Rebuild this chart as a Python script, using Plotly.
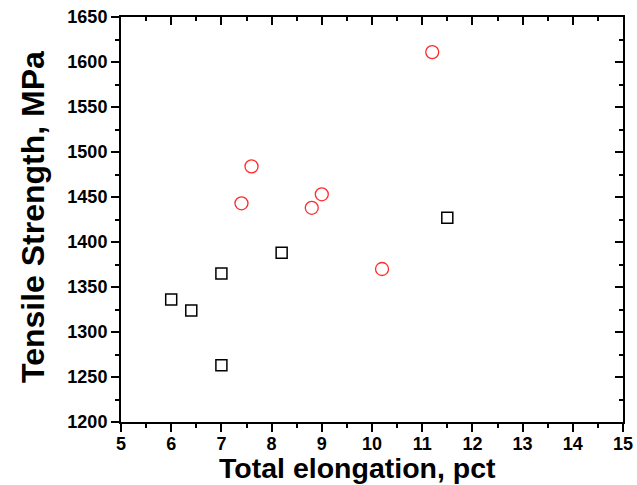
import plotly.graph_objects as go

# Data
square_elong = [6.0, 6.4, 7.0, 7.0, 8.2, 11.5]
square_strength = [1336, 1324, 1365, 1263, 1388, 1427]

circle_elong = [7.4, 7.6, 8.8, 9.0, 10.2, 11.2]
circle_strength = [1443, 1484, 1438, 1453, 1370, 1611]

x_title = "Total elongation, pct"
y_title = "Tensile Strength, MPa"

FONT = "Liberation Sans, Arial, sans-serif"

W, H = 637, 485
ML, MR, MT, MB = 121, 14, 17, 63

fig = go.Figure()
fig.add_trace(go.Scatter(
    x=square_elong, y=square_strength, mode="markers",
    marker=dict(symbol="square-open", size=11, color="black", line=dict(width=1.5)),
    showlegend=False, hoverinfo="skip"))
fig.add_trace(go.Scatter(
    x=circle_elong, y=circle_strength, mode="markers",
    marker=dict(symbol="circle-open", size=13, color="#ff2a2a", line=dict(width=1.3)),
    showlegend=False, hoverinfo="skip"))
# empty trace to make mirrored (top/right) axes render
fig.add_trace(go.Scatter(x=[], y=[], xaxis="x2", yaxis="y2", showlegend=False))

common_axis = dict(showgrid=False, zeroline=False, showline=True, linecolor="black",
                   linewidth=2, tickcolor="black", tickwidth=2, ticklen=8,
                   automargin=False)

fig.update_layout(
    width=W, height=H,
    margin=dict(l=ML, r=MR, t=MT, b=MB),
    paper_bgcolor="white", plot_bgcolor="white",
    font=dict(family=FONT, color="black"),
    xaxis=dict(range=[5, 15], dtick=1, tick0=5, ticks="outside",
               tickfont=dict(family=FONT, size=18, color="black", weight="bold"),
               ticklabelstandoff=-4, ticklabeloverflow="allow",
               minor=dict(dtick=0.5, ticklen=4, tickwidth=1.5, ticks="outside", tickcolor="black"),
               **common_axis),
    yaxis=dict(range=[1200, 1650], dtick=50, tick0=1200, ticks="outside",
               tickfont=dict(family=FONT, size=18, color="black", weight="bold"),
               ticklabeloverflow="allow",
               minor=dict(dtick=25, ticklen=4, tickwidth=1.5, ticks="outside", tickcolor="black"),
               **common_axis),
    xaxis2=dict(range=[5, 15], dtick=1, tick0=5, ticks="inside", overlaying="x",
                side="top", anchor="y2", showticklabels=False,
                minor=dict(dtick=0.5, ticklen=4, tickwidth=1.5, ticks="inside", tickcolor="black"),
                **common_axis),
    yaxis2=dict(range=[1200, 1650], dtick=50, tick0=1200, ticks="inside", overlaying="y",
                side="right", anchor="x2", showticklabels=False,
                minor=dict(dtick=25, ticklen=4, tickwidth=1.5, ticks="inside", tickcolor="black"),
                **common_axis),
)

# titles placed by page-pixel position, converted to paper coords
pw = W - ML - MR
ph = H - MT - MB


def to_paper(px, py):
    return (px - ML) / pw, (H - MB - py) / ph


ax, ay = to_paper(357, 468)
bx, by = to_paper(33, 217)
fig.add_annotation(text=x_title, x=ax, y=ay, xref="paper", yref="paper", showarrow=False,
                   font=dict(family=FONT, size=28.5, color="black", weight="bold"),
                   xanchor="center", yanchor="middle")
fig.add_annotation(text=y_title, x=bx, y=by, xref="paper", yref="paper", showarrow=False,
                   textangle=-90,
                   font=dict(family=FONT, size=32, color="black", weight="bold"),
                   xanchor="center", yanchor="middle")

fig.write_html("out.html",
               config={"displayModeBar": False},
               post_script="document.body.style.margin='0';document.body.style.overflow='hidden';")
